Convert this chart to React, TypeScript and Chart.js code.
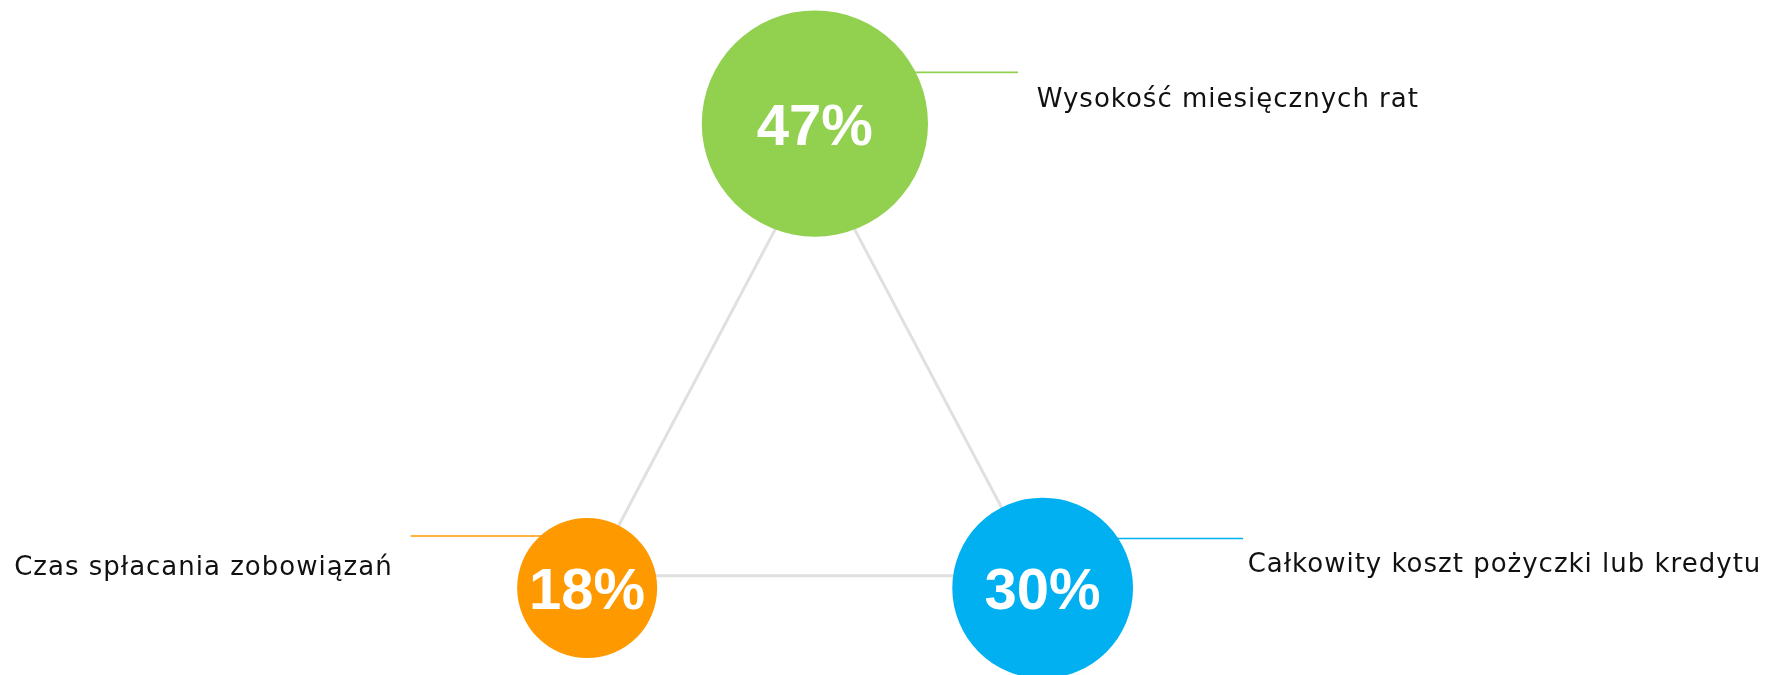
import React, { useEffect, useRef } from "react";
import { Chart, registerables } from "chart.js";

Chart.register(...registerables);

// ---- data ----
const categories = [
  "Wysokość miesięcznych rat",
  "Czas spłacania zobowiązań",
  "Całkowity koszt pożyczki lub kredytu",
];
const shares = [47, 18, 30];
const colors = ["#92D050", "#FF9900", "#00B0F0"];

// ---- layout (abstract triangle coordinates) ----
const nodeX = [0, -1, 1];
const nodeY = [1, 0, 0];
const triangleX = [0, -0.978, 0.978];
const triangleY = [0.934, 0.0265, 0.0265];
const connectorEndX = [0.892, -1.775, 1.88];
const connectorY = [1.11, 0.112, 0.1066];
const labelX = [0.974, -1.854, 1.9];
const labelY = [1.0355, 0.028, 0.0344];
const labelAlign: CanvasTextAlign[] = ["left", "right", "left"];
const radiusScale = 16.5;

export default function App() {
  const ref = useRef<HTMLCanvasElement | null>(null);

  useEffect(() => {
    document.body.style.margin = "0";
    const canvas = ref.current;
    if (!canvas) return;

    const labelsPlugin = {
      id: "nodeLabels",
      afterDatasetsDraw(chart: any) {
        const ctx = chart.ctx as CanvasRenderingContext2D;
        const xs = chart.scales.x;
        const ys = chart.scales.y;
        ctx.save();
        for (let i = 0; i < categories.length; i++) {
          const cx = xs.getPixelForValue(nodeX[i]);
          const cy = ys.getPixelForValue(nodeY[i]);
          ctx.fillStyle = "#ffffff";
          ctx.font = "bold 58px 'Liberation Sans', Arial, sans-serif";
          ctx.textAlign = "center";
          ctx.textBaseline = "alphabetic";
          ctx.fillText(shares[i] + "%", cx, cy + 21);

          ctx.fillStyle = "#111111";
          ctx.font = "26px 'DejaVu Sans', sans-serif";
          (ctx as any).letterSpacing = "1px";
          ctx.textAlign = labelAlign[i];
          ctx.fillText(
            categories[i],
            xs.getPixelForValue(labelX[i]),
            ys.getPixelForValue(labelY[i])
          );
          (ctx as any).letterSpacing = "0px";
        }
        ctx.restore();
      },
    };

    const triangle = [0, 1, 2, 0].map((k) => ({ x: triangleX[k], y: triangleY[k] }));

    const connectorSets = categories.map((_, i) => ({
      type: "line" as const,
      data: [
        { x: nodeX[i], y: connectorY[i] },
        { x: connectorEndX[i], y: connectorY[i] },
      ],
      borderColor: colors[i],
      borderWidth: 1.6,
      pointRadius: 0,
      fill: false,
      clip: false,
      order: 2,
    }));

    const chart = new Chart(canvas, {
      type: "bubble",
      data: {
        datasets: [
          {
            type: "bubble",
            data: shares.map((v, i) => ({ x: nodeX[i], y: nodeY[i], r: radiusScale * Math.sqrt(v) })),
            backgroundColor: colors,
            borderWidth: 0,
            clip: false,
            order: 0,
          } as any,
          {
            type: "line",
            data: triangle,
            borderColor: "#E0E0E0",
            borderWidth: 3,
            pointRadius: 0,
            fill: false,
            clip: false,
            order: 3,
          } as any,
          ...(connectorSets as any[]),
        ],
      },
      options: {
        animation: false,
        responsive: true,
        maintainAspectRatio: false,
        events: [],
        layout: { padding: 0, autoPadding: false },
        plugins: {
          legend: { display: false },
          tooltip: { enabled: false },
        },
        scales: {
          x: { type: "linear", display: false, min: -3.578, max: 4.198 },
          y: { type: "linear", display: false, min: -0.1873, max: 1.2659 },
        },
      },
      plugins: [labelsPlugin],
    });

    return () => chart.destroy();
  }, []);

  return (
    <div style={{ position: "relative", width: "1771px", height: "675px" }}>
      <canvas ref={ref} />
    </div>
  );
}
